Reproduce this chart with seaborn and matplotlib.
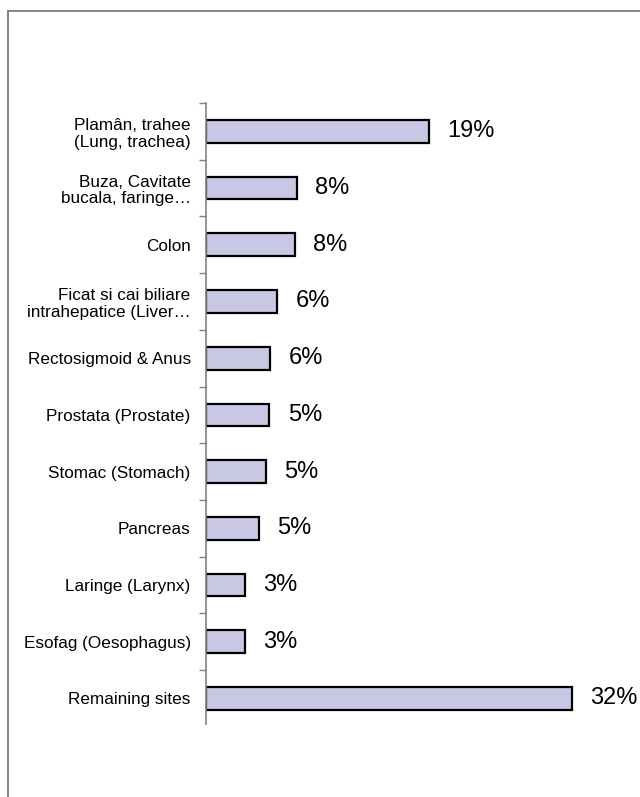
import pandas as pd
import seaborn as sns
import matplotlib.pyplot as plt
from matplotlib.lines import Line2D

sites = [
    "Plamân, trahee\n(Lung, trachea)",
    "Buza, Cavitate\nbucala, faringe…",
    "Colon",
    "Ficat si cai biliare\nintrahepatice (Liver…",
    "Rectosigmoid & Anus",
    "Prostata (Prostate)",
    "Stomac (Stomach)",
    "Pancreas",
    "Laringe (Larynx)",
    "Esofag (Oesophagus)",
    "Remaining sites",
]
share = [19.4, 7.9, 7.7, 6.2, 5.6, 5.5, 5.2, 4.6, 3.4, 3.4, 31.8]
labels = ["19%", "8%", "8%", "6%", "6%", "5%", "5%", "5%", "3%", "3%", "32%"]

df = pd.DataFrame({"site": sites, "share": share})

sns.set_style("white")
plt.rcParams["font.family"] = ["Liberation Sans", "DejaVu Sans"]
plt.rcParams["text.color"] = "black"
plt.rcParams["ytick.color"] = "black"

fig = plt.figure(figsize=(6.4, 7.97), dpi=100)
ax = fig.add_axes([206 / 640, 1 - 724 / 797, 414 / 640, (724 - 103) / 797])

sns.barplot(data=df, x="share", y="site", orient="h", color="#c8c8e4",
            edgecolor="black", linewidth=1.6, width=0.4, saturation=1, ax=ax)

for i, t in enumerate(labels):
    ax.text(share[i] + 1.6, i, t, va="center", ha="left", fontsize=17, color="black")

ax.set_xlim(0, 36)
ax.set_ylim(10.45, -0.5)
ax.set_xlabel("")
ax.set_ylabel("")
ax.set_xticks([])
ax.tick_params(axis="y", which="major", length=0, labelsize=12.3, pad=11,
               labelcolor="black")
for lbl in ax.get_yticklabels():
    lbl.set_linespacing(1.15)
ax.set_yticks([i - 0.5 for i in range(11)], minor=True)
ax.tick_params(axis="y", which="minor", left=True, length=5, color="#808080", width=1)
for s in ["top", "right", "bottom"]:
    ax.spines[s].set_visible(False)
ax.spines["left"].set_color("#808080")
ax.spines["left"].set_linewidth(1.2)

# outer frame of the original picture
fig.add_artist(Line2D([8 / 640, 8 / 640], [0, 1 - 11 / 797], transform=fig.transFigure,
                      color="#707070", linewidth=1.2))
fig.add_artist(Line2D([8 / 640, 1], [1 - 11 / 797, 1 - 11 / 797], transform=fig.transFigure,
                      color="#707070", linewidth=1.2))

fig.savefig("out.png", dpi=100)
